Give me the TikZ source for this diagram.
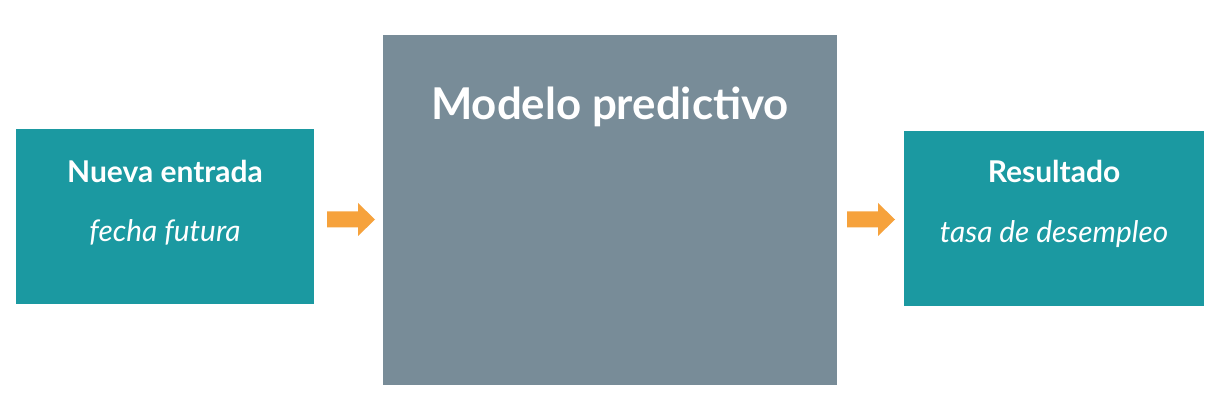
\documentclass[tikz,border=0pt]{standalone}
\usepackage{fontspec}
\setmainfont{Lato}
\definecolor{tealbox}{HTML}{1B99A1}
\definecolor{greybox}{HTML}{788C98}
\definecolor{orangearr}{HTML}{F6A23C}
\tikzset{
  box/.style={draw=none, inner sep=0pt, anchor=north west},
  title/.style={text=white, font=\bfseries\fontsize{30}{34}\selectfont, anchor=base, inner sep=0pt},
  sub/.style={text=white, font=\itshape\fontsize{29.8}{34}\selectfont, anchor=base, inner sep=0pt},
  flow/.style={fill=orangearr, draw=none},
  pics/fatarrow/.style={code={
    \fill[flow] (-24,-8) -- (7,-8) -- (7,-16.5) -- (24,0) -- (7,16.5) -- (7,8) -- (-24,8) -- cycle;
  }}
}
\begin{document}
\begin{tikzpicture}[x=1pt,y=-1pt]
\useasboundingbox (0,0) rectangle (1220,411);
\fill[white] (0,0) rectangle (1220,411);
\node[box, fill=tealbox, minimum width=298pt, minimum height=175pt] (in) at (16,129) {};
\node[box, fill=greybox, minimum width=454pt, minimum height=350pt] (model) at (383,35) {};
\node[box, fill=tealbox, minimum width=300pt, minimum height=175pt] (out) at (904,131) {};
\node[title] (intitle) at (165,183) {Nueva entrada};
\node[sub] (insub) at (165,241.5) {fecha futura};
\node[title, font=\bfseries\fontsize{43.8}{48}\selectfont] (modeltitle) at (610,120) {Modelo predictivo};
\node[title] (outtitle) at (1054,183) {Resultado};
\node[sub] (outsub) at (1054,243) {tasa de desempleo};
\coordinate (a1) at (351,219.5);
\coordinate (a2) at (871,219.5);
\pic at (a1) {fatarrow};
\pic at (a2) {fatarrow};
\end{tikzpicture}
\end{document}
